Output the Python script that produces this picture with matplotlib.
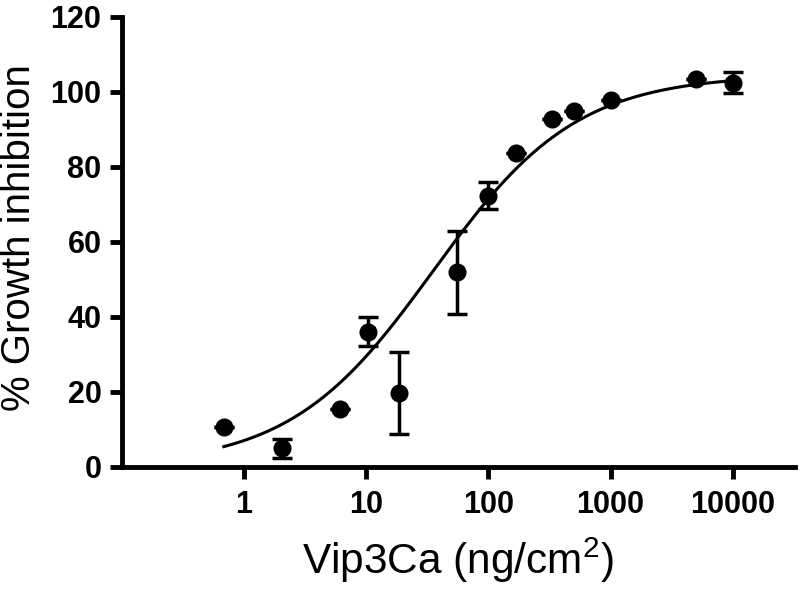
import numpy as np
import matplotlib
matplotlib.use("Agg")
import matplotlib.pyplot as plt

plt.rcParams['font.family'] = ['Liberation Sans', 'DejaVu Sans']
plt.rcParams['mathtext.fontset'] = 'custom'
plt.rcParams['mathtext.rm'] = 'Liberation Sans'
plt.rcParams['mathtext.it'] = 'Liberation Sans:italic'
plt.rcParams['mathtext.bf'] = 'Liberation Sans:bold'

# Data
dose = [0.686, 2.06, 6.17, 10.3, 18.5, 55.6, 100, 167, 333, 500, 1000, 5000, 10000]
inhibition = [10.7, 4.9, 15.3, 36.0, 19.6, 51.8, 72.2, 83.7, 92.6, 94.9, 97.8, 103.3, 102.4]
err = [0, 2.5, 0, 3.8, 11.0, 11.0, 3.6, 0, 0, 0, 0, 0, 2.8]

# Fitted dose-response (4PL) parameters
fit_bottom = 0.0
fit_top = 104.5
fit_log_ec50 = 1.55
fit_hill = 0.74

xticks = [1, 10, 100, 1000, 10000]
xticklabels = ['1', '10', '100', '1000', '10000']
yticks = [0, 20, 40, 60, 80, 100, 120]

fig = plt.figure(figsize=(8, 5.9), dpi=100)
ax = fig.add_axes([0.152, 0.209, 0.842, 0.763])

xc = np.logspace(np.log10(dose[0]), np.log10(dose[-1]), 300)
yc = fit_bottom + (fit_top - fit_bottom) / (1 + 10 ** ((fit_log_ec50 - np.log10(xc)) * fit_hill))
ax.plot(xc, yc, color='black', lw=2.2, zorder=2)

ax.errorbar(dose, inhibition, yerr=err, fmt='o', color='black', ms=12,
            elinewidth=2.5, capsize=7, capthick=2.5, zorder=3)

ax.set_xscale('log')
ax.set_xlim(0.1, 10 ** 4.51)
ax.set_ylim(0, 120)
ax.set_xticks(xticks)
ax.set_xticklabels(xticklabels)
ax.xaxis.set_minor_locator(matplotlib.ticker.NullLocator())
ax.set_yticks(yticks)

for s in ['top', 'right']:
    ax.spines[s].set_visible(False)
for s in ['left', 'bottom']:
    ax.spines[s].set_linewidth(3.5)

ax.tick_params(axis='both', which='major', width=3.5, length=8.5, labelsize=22)
ax.tick_params(axis='x', pad=8)
ax.tick_params(axis='y', pad=6)
for lab in ax.get_xticklabels() + ax.get_yticklabels():
    lab.set_fontweight('bold')

ax.set_xlabel('Vip3Ca (ng/cm$^2$)', fontsize=30.5, va='center')
ax.xaxis.set_label_coords(0.4987, -0.208)
ax.set_ylabel('% Growth inhibition', fontsize=29, va='center')
ax.yaxis.set_label_coords(-0.152, 0.51)

fig.savefig('out.png', dpi=100)
